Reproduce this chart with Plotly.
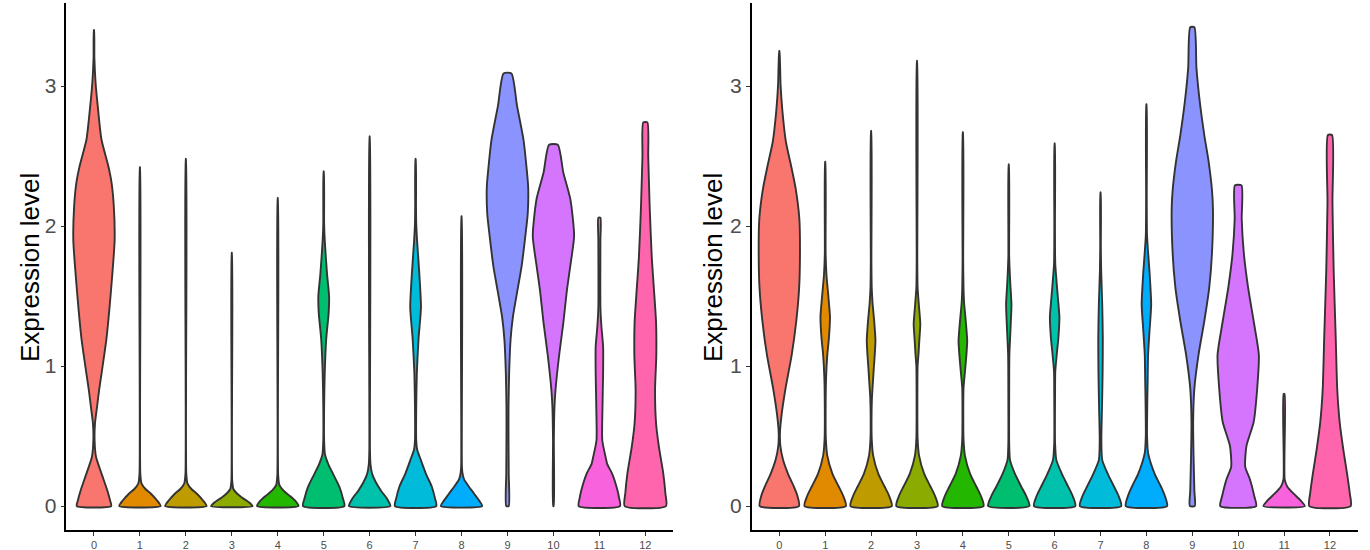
import plotly.graph_objects as go

# ---------------- data ----------------
clusters = ["0", "1", "2", "3", "4", "5", "6", "7", "8", "9", "10", "11", "12"]
colors = ["#F8766D", "#E18A00", "#BE9C00", "#8CAB00", "#24B700", "#00BE70", "#00C1AB",
          "#00BBDA", "#00ACFC", "#8B93FF", "#D575FE", "#F962DD", "#FF65AC"]
y_ticks = [0, 1, 2, 3]
y_title = "Expression level"

# Violin outlines: expression levels (bottom -> top) and relative half-widths (max = 1)
left_levels = [
    [0, 0.04, 0.11, 0.23, 0.35, 0.47, 0.59, 0.71, 0.83, 0.95, 1.19, 1.43, 1.66, 1.90, 2.14, 2.31, 2.43, 2.62, 2.86, 3.02, 3.2, 3.40],
    [0, 0.04, 0.09, 0.12, 0.16, 0.23, 2.42],
    [0, 0.04, 0.09, 0.12, 0.16, 0.23, 2.48],
    [0, 0.03, 0.06, 0.09, 0.12, 0.18, 1.81],
    [0, 0.04, 0.08, 0.11, 0.15, 0.22, 2.20],
    [0, 0.06, 0.14, 0.23, 0.30, 0.37, 0.47, 0.71, 0.95, 1.19, 1.38, 1.50, 1.66, 1.90, 2.02, 2.39],
    [0, 0.05, 0.11, 0.17, 0.23, 0.30, 0.40, 2.64],
    [0, 0.06, 0.14, 0.23, 0.33, 0.40, 0.47, 0.71, 0.95, 1.19, 1.42, 1.66, 1.90, 2.02, 2.14, 2.48],
    [0, 0.04, 0.09, 0.14, 0.19, 0.24, 0.30, 2.07],
    [0, 0.23, 0.47, 0.71, 0.95, 1.19, 1.35, 1.54, 1.71, 1.90, 2.09, 2.28, 2.45, 2.62, 2.86, 3.09],
    [0, 0.47, 0.71, 0.83, 1.07, 1.31, 1.54, 1.71, 1.93, 2.19, 2.38, 2.58],
    [0, 0.06, 0.11, 0.23, 0.30, 0.35, 0.47, 0.71, 0.95, 1.14, 1.28, 1.42, 1.90, 2.06],
    [0, 0.09, 0.23, 0.42, 0.59, 0.83, 1.07, 1.31, 1.54, 1.78, 2.14, 2.50, 2.74],
]
left_widths = [
    [0.83, 0.78, 0.65, 0.37, 0.10, 0.03, 0.05, 0.15, 0.25, 0.37, 0.60, 0.76, 0.89, 1.0, 0.96, 0.85, 0.69, 0.36, 0.18, 0.08, 0.02, 0.006],
    [1.0, 0.83, 0.52, 0.28, 0.08, 0.02, 0.006],
    [1.0, 0.83, 0.52, 0.28, 0.08, 0.02, 0.006],
    [1.0, 0.8, 0.5, 0.25, 0.08, 0.02, 0.006],
    [1.0, 0.83, 0.52, 0.28, 0.08, 0.02, 0.006],
    [1.0, 0.92, 0.75, 0.45, 0.22, 0.06, 0.02, 0.02, 0.05, 0.12, 0.24, 0.26, 0.16, 0.05, 0.02, 0.006],
    [1.0, 0.85, 0.55, 0.3, 0.12, 0.04, 0.015, 0.006],
    [1.0, 0.93, 0.78, 0.5, 0.25, 0.08, 0.03, 0.03, 0.06, 0.14, 0.26, 0.18, 0.07, 0.03, 0.02, 0.006],
    [1.0, 0.85, 0.6, 0.35, 0.12, 0.04, 0.015, 0.006],
    [0.06, 0.06, 0.05, 0.05, 0.08, 0.15, 0.26, 0.48, 0.68, 0.84, 0.98, 1.0, 0.9, 0.77, 0.46, 0.19],
    [0.012, 0.02, 0.05, 0.1, 0.27, 0.48, 0.65, 0.81, 1.0, 0.82, 0.48, 0.21],
    [1.0, 0.95, 0.88, 0.62, 0.38, 0.3, 0.14, 0.15, 0.18, 0.18, 0.1, 0.05, 0.05, 0.05],
    [1.0, 0.97, 0.87, 0.66, 0.52, 0.47, 0.53, 0.52, 0.42, 0.31, 0.21, 0.14, 0.1],
]

right_levels = [
    [0, 0.07, 0.14, 0.23, 0.33, 0.43, 0.52, 0.64, 0.84, 1.08, 1.32, 1.56, 1.83, 2.05, 2.26, 2.41, 2.60, 2.82, 3.01, 3.25],
    [0, 0.07, 0.14, 0.23, 0.36, 0.48, 0.68, 0.91, 1.08, 1.20, 1.35, 1.50, 1.65, 1.80, 2.46],
    [0, 0.07, 0.14, 0.23, 0.36, 0.48, 0.60, 0.77, 0.96, 1.18, 1.32, 1.45, 1.56, 1.75, 2.68],
    [0, 0.07, 0.14, 0.23, 0.36, 0.48, 0.80, 1.00, 1.08, 1.20, 1.30, 1.42, 1.56, 1.75, 3.18],
    [0, 0.07, 0.14, 0.23, 0.36, 0.48, 0.70, 0.84, 0.96, 1.08, 1.18, 1.32, 1.45, 1.56, 1.75, 2.67],
    [0, 0.07, 0.14, 0.23, 0.33, 0.45, 0.80, 1.08, 1.25, 1.44, 1.60, 1.78, 2.44],
    [0, 0.07, 0.14, 0.23, 0.33, 0.45, 0.80, 0.96, 1.08, 1.20, 1.35, 1.50, 1.73, 2.0, 2.59],
    [0, 0.07, 0.14, 0.23, 0.33, 0.48, 0.70, 0.95, 1.20, 1.45, 1.68, 1.85, 2.24],
    [0, 0.07, 0.14, 0.23, 0.38, 0.50, 0.72, 0.90, 1.08, 1.25, 1.44, 1.65, 1.93, 2.2, 2.87],
    [0, 0.11, 0.36, 0.60, 0.84, 1.08, 1.32, 1.56, 1.80, 2.12, 2.26, 2.46, 2.65, 2.89, 3.13, 3.42],
    [0, 0.07, 0.19, 0.28, 0.43, 0.60, 0.84, 1.08, 1.32, 1.56, 1.81, 2.05, 2.29],
    [0, 0.04, 0.09, 0.14, 0.19, 0.80],
    [0, 0.09, 0.23, 0.40, 0.60, 0.84, 1.20, 1.68, 2.17, 2.65],
]
right_widths = [
    [0.95, 0.88, 0.7, 0.42, 0.18, 0.05, 0.03, 0.1, 0.3, 0.6, 0.82, 0.96, 1.0, 0.97, 0.8, 0.6, 0.32, 0.15, 0.06, 0.006],
    [1.0, 0.88, 0.65, 0.35, 0.1, 0.03, 0.02, 0.04, 0.1, 0.18, 0.23, 0.15, 0.06, 0.02, 0.006],
    [1.0, 0.88, 0.65, 0.35, 0.1, 0.03, 0.02, 0.04, 0.12, 0.21, 0.15, 0.07, 0.03, 0.015, 0.006],
    [1.0, 0.88, 0.65, 0.35, 0.1, 0.03, 0.02, 0.03, 0.07, 0.12, 0.16, 0.1, 0.03, 0.015, 0.006],
    [1.0, 0.88, 0.65, 0.35, 0.1, 0.03, 0.02, 0.03, 0.1, 0.17, 0.21, 0.14, 0.06, 0.03, 0.015, 0.006],
    [1.0, 0.85, 0.6, 0.3, 0.06, 0.02, 0.02, 0.03, 0.08, 0.13, 0.07, 0.02, 0.006],
    [1.0, 0.88, 0.65, 0.35, 0.08, 0.02, 0.02, 0.03, 0.1, 0.18, 0.23, 0.15, 0.03, 0.015, 0.006],
    [1.0, 0.88, 0.65, 0.35, 0.08, 0.04, 0.07, 0.1, 0.11, 0.08, 0.03, 0.015, 0.006],
    [1.0, 0.9, 0.7, 0.4, 0.08, 0.03, 0.04, 0.06, 0.08, 0.15, 0.23, 0.16, 0.03, 0.015, 0.006],
    [0.12, 0.1, 0.06, 0.04, 0.1, 0.3, 0.58, 0.82, 0.95, 1.0, 0.95, 0.79, 0.58, 0.36, 0.2, 0.1],
    [0.87, 0.78, 0.57, 0.34, 0.4, 0.75, 0.92, 1.0, 0.75, 0.48, 0.27, 0.17, 0.16],
    [1.0, 0.8, 0.45, 0.15, 0.03, 0.025],
    [1.0, 0.96, 0.83, 0.65, 0.47, 0.35, 0.28, 0.18, 0.12, 0.1],
]

# ---------------- style ----------------
HALF = 0.45          # half of violin width (category units)
OUTLINE = "#333333"
FONT = "Liberation Sans, Arial, sans-serif"

fig = go.Figure()


def add_violins(levels, widths, xref, yref):
    for i, (ys, ws) in enumerate(zip(levels, widths)):
        right_x = [i + HALF * w for w in ws]
        left_x = [i - HALF * w for w in reversed(ws)]
        xs = right_x + left_x + [right_x[0]]
        yy = list(ys) + list(reversed(ys)) + [ys[0]]
        fig.add_trace(go.Scatter(
            x=xs, y=yy, xaxis=xref, yaxis=yref,
            mode="lines", fill="toself", fillcolor=colors[i],
            line=dict(color=OUTLINE, width=1.9, shape="spline", smoothing=0.6),
            hoverinfo="skip", showlegend=False,
        ))


add_violins(left_levels, left_widths, "x", "y")
add_violins(right_levels, right_widths, "x2", "y2")

W, H = 1370, 550
ydom = [1 - 530 / H, 1 - 3 / H]
yrange = [-0.171, 3.593]

xaxis_common = dict(
    range=[-0.6, 12.6], tickmode="array", tickvals=list(range(len(clusters))),
    ticktext=clusters, showgrid=False, zeroline=False, showline=True,
    linecolor="black", linewidth=1.6, ticks="outside", ticklen=4,
    tickcolor="#333333", tickwidth=1.2,
    tickfont=dict(family=FONT, size=11, color="#4D4D4D"), fixedrange=True,
)
yaxis_common = dict(
    range=yrange, tickmode="array", tickvals=y_ticks, ticktext=[str(t) for t in y_ticks],
    showgrid=False, zeroline=False, showline=True, linecolor="black", linewidth=1.6,
    ticks="outside", ticklen=4, tickcolor="#333333", tickwidth=1.2,
    tickfont=dict(family=FONT, size=21, color="#4D4D4D"), domain=ydom, fixedrange=True,
)

fig.update_layout(
    width=W, height=H, margin=dict(l=0, r=0, t=0, b=0),
    paper_bgcolor="white", plot_bgcolor="white",
    xaxis=dict(domain=[66.4 / W, 672.9 / W], anchor="y", **xaxis_common),
    yaxis=dict(anchor="x", **yaxis_common),
    xaxis2=dict(domain=[751.8 / W, 1357.5 / W], anchor="y2", **xaxis_common),
    yaxis2=dict(anchor="x2", **yaxis_common),
    font=dict(family=FONT),
    annotations=[
        dict(text=y_title, x=30 / W, y=1 - 268 / H, xref="paper", yref="paper",
             textangle=-90, showarrow=False, font=dict(family=FONT, size=26, color="black"),
             xanchor="center", yanchor="middle"),
        dict(text=y_title, x=713 / W, y=1 - 268 / H, xref="paper", yref="paper",
             textangle=-90, showarrow=False, font=dict(family=FONT, size=26, color="black"),
             xanchor="center", yanchor="middle"),
    ],
)

fig.write_html("out.html")
